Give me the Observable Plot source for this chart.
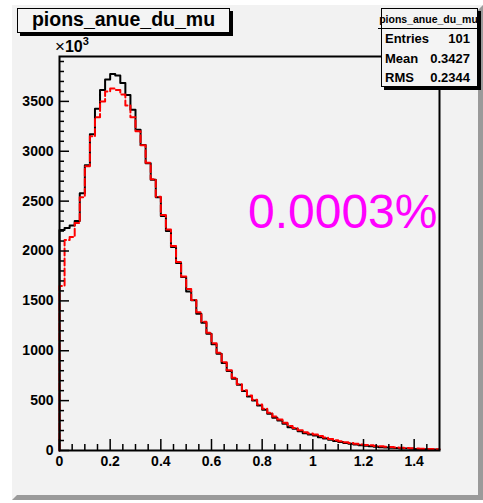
<!DOCTYPE html>
<html><head><meta charset="utf-8">
<script src="https://cdn.jsdelivr.net/npm/d3@7"></script>
<script src="https://cdn.jsdelivr.net/npm/@observablehq/plot@0.6"></script>
<style>
body{margin:0;background:#fff;}
#wrap{position:relative;width:483px;height:503px;overflow:hidden;font-family:"Liberation Sans",Arial,Helvetica,sans-serif;}
#pad{position:absolute;left:12px;top:5px;width:461px;height:485px;background:#f2f2f2;border:5px solid #f2f2f2;border-right-color:#9a9a9a;border-bottom-color:#9a9a9a;}
#chart{position:absolute;left:0;top:0;}
#expo{position:absolute;left:55px;top:35px;font-size:17px;color:#000;white-space:nowrap;}
#expo b{font-weight:bold;font-size:16px;}
#expo sup{font-size:11px;font-weight:bold;vertical-align:7px;}
#title{position:absolute;left:17px;top:8px;width:213px;height:25px;box-sizing:border-box;border:1.5px solid #000;background:#f4f4f4;box-shadow:3px 3px 0 #000;font-weight:bold;font-size:19.5px;text-align:center;line-height:21px;color:#000;}
#stats{position:absolute;left:381px;top:8px;width:97px;height:79px;box-sizing:border-box;border:1.5px solid #000;background:#f4f4f4;box-shadow:3px 3px 0 #000;color:#000;font-weight:bold;}
#stats .st{height:19px;border-bottom:1.5px solid #000;font-size:10.5px;text-align:center;line-height:20px;white-space:nowrap;overflow:visible;margin-left:-4px;margin-right:-2px;}
#stats .row{display:flex;justify-content:space-between;height:19.5px;line-height:19.5px;font-size:13px;padding:0 7px 0 3px;}
</style>
</head><body>
<div id="wrap">
  <div id="pad"></div>
  <div id="chart"></div>
  <div id="expo">×<b>10</b><sup>3</sup></div>
  <div id="title"></div>
  <div id="stats"></div>
</div>
<script>
// ---- data ----
const histName = "pions_anue_du_mu";
const binWidth = 0.02;
const blackCounts = [2210,2230,2255,2300,2580,2860,3170,3425,3614,3720,
  3775,3760,3685,3565,3415,3215,3062,2880,2715,2540,
  2350,2200,2040,1881,1740,1595,1506,1372,1280,1171,
  1064,971,877,796,720,660,596,542,502,452,
  408,368,328,301,268,234,218,194,174,161,
  150,134,120,107,95,84,74,67,60,53,
  47,43,37,33,30,27,24,21,19,17,
  15,13,12,11,10];
const redCounts = [1650,2110,2140,2280,2540,2850,3150,3340,3500,3600,
  3630,3615,3570,3460,3340,3200,3060,2885,2720,2545,
  2360,2215,2050,1890,1745,1620,1510,1385,1290,1180,
  1075,980,885,805,730,665,605,552,510,462,
  418,378,340,310,278,246,226,204,184,170,
  160,145,130,116,104,93,83,75,67,60,
  56,52,46,42,38,34,30,27,24,22,
  20,18,16,14,13];
const xMajor = [0,0.2,0.4,0.6,0.8,1,1.2,1.4];
const xTickLabels = ["0","0.2","0.4","0.6","0.8","1","1.2","1.4"];
const xMinor = [0.05,0.1,0.15,0.25,0.3,0.35,0.45,0.5,0.55,0.65,0.7,0.75,0.85,0.9,0.95,1.05,1.1,1.15,1.25,1.3,1.35,1.45];
const yMajor = [0,500,1000,1500,2000,2500,3000,3500];
const yTickLabels = ["0","500","1000","1500","2000","2500","3000","3500"];
const yMinor = [100,200,300,400,600,700,800,900,1100,1200,1300,1400,1600,1700,1800,1900,2100,2200,2300,2400,2600,2700,2800,2900,3100,3200,3300,3400,3600,3700,3800,3900];
const xDomain = [0, 1.5];
const yDomain = [0, 3950];
const statsRows = [["Entries","101"],["Mean","0.3427"],["RMS","0.2344"]];
const annotation = "0.0003%";

// ---- build step outlines (ROOT histogram style) ----
const toSteps = vals => [{x: 0, y: 0}]
  .concat(vals.map((v, i) => ({x: i * binWidth, y: v})))
  .concat([{x: vals.length * binWidth, y: vals[vals.length - 1]}]);

const chart = Plot.plot({
  width: 483, height: 503,
  marginLeft: 59, marginRight: 44, marginTop: 56, marginBottom: 53,
  style: {background: "transparent", fontFamily: "Liberation Sans, Arial, Helvetica, sans-serif", fontWeight: "bold", fontSize: "14px", color: "#000", overflow: "visible"},
  x: {domain: xDomain, axis: null},
  y: {domain: yDomain, axis: null},
  marks: [
    Plot.text([annotation], {frameAnchor: "right", textAnchor: "end", dx: -2, dy: -41, text: d => d, fill: "#ff00ff", fontSize: 48, fontWeight: "normal"}),
    Plot.line(toSteps(blackCounts), {x: "x", y: "y", curve: "step-after", stroke: "#000", strokeWidth: 2}),
    Plot.line(toSteps(redCounts), {x: "x", y: "y", curve: "step-after", stroke: "#ff0000", strokeWidth: 2, strokeDasharray: "7,3"}),
    Plot.ruleX(xMinor, {x: d => d, y1: 0, y2: 0, insetBottom: 6, stroke: "#000", strokeWidth: 1.5}),
    Plot.ruleX(xMajor, {x: d => d, y1: 0, y2: 0, insetBottom: 11, stroke: "#000", strokeWidth: 1.5}),
    Plot.ruleY(yMinor, {y: d => d, x1: 0, x2: 0, insetRight: -5, stroke: "#000", strokeWidth: 1.5}),
    Plot.ruleY(yMajor, {y: d => d, x1: 0, x2: 0, insetRight: -10, stroke: "#000", strokeWidth: 1.5}),
    Plot.axisX({ticks: xMajor, tickSize: 0, tickPadding: 6, tickFormat: d => xTickLabels[xMajor.indexOf(d)], label: null, fontSize: 14}),
    Plot.axisY({ticks: yMajor, tickSize: 0, tickPadding: 6, tickFormat: d => yTickLabels[yMajor.indexOf(d)], label: null, fontSize: 14}),
    Plot.frame({stroke: "#000", strokeWidth: 2})
  ]
});
document.getElementById("chart").appendChild(chart);

document.getElementById("title").textContent = histName;
const stats = document.getElementById("stats");
const st = document.createElement("div");
st.className = "st"; st.textContent = histName;
stats.appendChild(st);
for (const [k, v] of statsRows) {
  const r = document.createElement("div");
  r.className = "row";
  const a = document.createElement("span"); a.textContent = k;
  const b = document.createElement("span"); b.textContent = v;
  r.appendChild(a); r.appendChild(b);
  stats.appendChild(r);
}
</script>
</body></html>
